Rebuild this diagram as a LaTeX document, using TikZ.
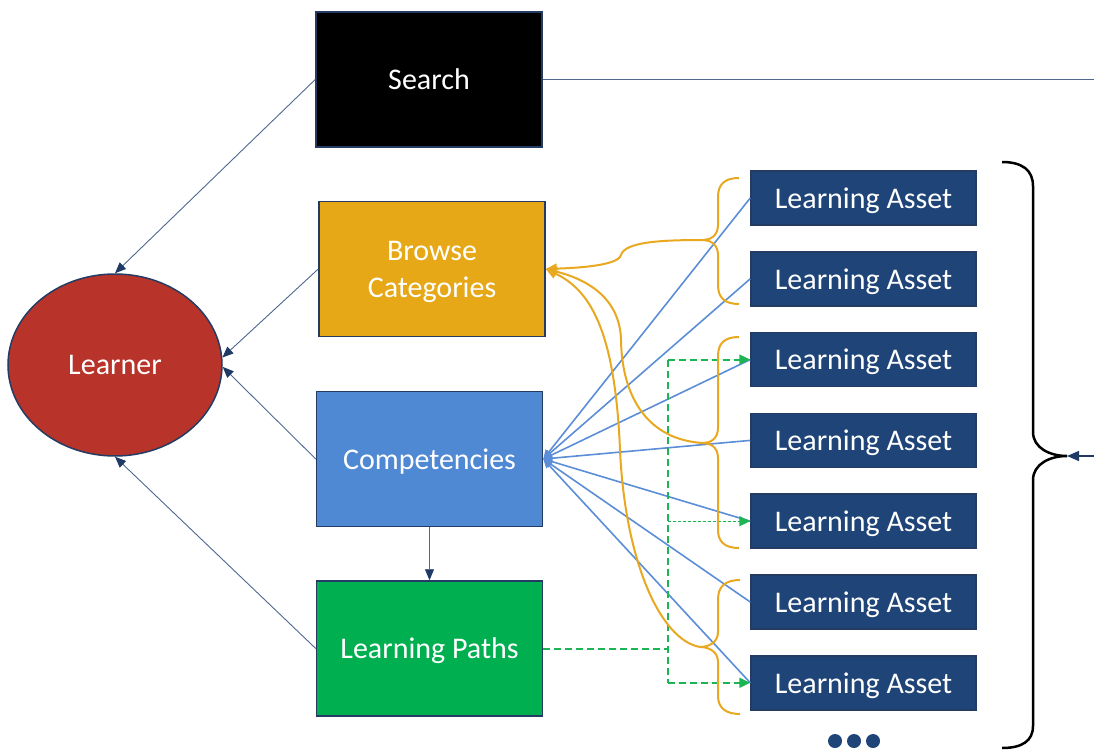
\documentclass[tikz,border=0pt]{standalone}
\usepackage{fontspec}
\setmainfont{Carlito}
\usetikzlibrary{arrows.meta,shapes.geometric}
\definecolor{boxedge}{RGB}{36,60,100}
\definecolor{browseorange}{RGB}{230,168,23}
\definecolor{compblue}{RGB}{80,137,211}
\definecolor{pathgreen}{RGB}{0,176,80}
\definecolor{learnerred}{RGB}{184,51,41}
\definecolor{assetblue}{RGB}{31,68,120}
\definecolor{linkblue}{RGB}{78,104,144}
\definecolor{headblue}{RGB}{31,58,100}
\definecolor{rayblue}{RGB}{91,142,214}
\definecolor{bracegold}{RGB}{232,168,32}
\definecolor{dashgreen}{RGB}{29,180,84}
\tikzset{
  box/.style={draw=boxedge, line width=1.5pt, minimum width=226pt, minimum height=135pt,
    inner sep=0pt, text depth=0pt, text=white, align=center, font=\fontsize{30}{37}\selectfont},
  assetbox/.style={box, fill=assetblue, minimum width=225pt, minimum height=54pt},
  tolearner/.style={draw=linkblue, line width=0.9pt, -{Triangle[length=11pt,width=9pt,color=headblue]}},
  ray/.style={draw=rayblue, line width=1.6pt, -{Triangle[length=9pt,width=8pt]}},
  goldline/.style={draw=bracegold, line width=2pt},
  pathlink/.style={draw=dashgreen, line width=2pt, dash pattern=on 7pt off 4pt},
  pathhead/.style={-{Triangle[length=11pt,width=10pt]}},
}
\begin{document}
\begin{tikzpicture}[x=1pt,y=-1pt]
  \useasboundingbox (0,0) rectangle (1094,749);
  %Shape: Rectangle
  \node[box, fill=black] (search) at (429,79.5) {Search};
  %Shape: Rectangle
  \node[box, fill=browseorange] (browse) at (432,269) {Browse\\Categories};
  %Shape: Rectangle
  \node[box, fill=compblue] (comp) at (429.5,459) {Competencies};
  %Shape: Rectangle
  \node[box, fill=pathgreen] (paths) at (429.5,648.5) {Learning Paths};
  %Shape: Ellipse
  \node[box, ellipse, fill=learnerred, minimum width=214pt, minimum height=182pt] (learner) at (115,365) {Learner};
  %Shape: Rectangles (assets)
  \foreach \i in {1,...,7}
    \node[assetbox] (asset\i) at (863.5,{198+80.8*(\i-1)}) {Learning Asset};
  %Shape: Dots
  \foreach \dx in {835,854,873}
    \fill[assetblue] (\dx,741) circle (7pt);

  %Straight Lines
  \draw[tolearner] (search.west) -- (learner.north);
  \draw[tolearner] (browse.west) -- (learner.4);
  \draw[tolearner] (comp.west) -- (learner.-1);
  \draw[tolearner] (paths.west) -- (learner.south);
  \draw[tolearner] (comp.south) -- (paths.north);
  \coordinate (searchout) at (1094,79.5);
  \draw[draw=linkblue, line width=1.2pt] (search.east) -- (searchout);
  %Straight Lines (assets to competencies)
  \foreach \i in {1,...,7}
    \draw[ray] (asset\i.west) -- (comp.east);

  %Dashed Lines
  \coordinate (gj) at (668,648.5);
  \draw[pathlink] (paths.east) -- (gj);
  \draw[pathlink] (gj |- asset3.west) -- (gj |- asset7.west);
  \draw[pathlink, pathhead, fill=dashgreen] (gj |- asset3.west) -- (asset3.west);
  \draw[pathlink, pathhead, fill=dashgreen, line width=1.4pt, dash pattern=on 3pt off 2pt] (gj |- asset5.west) -- (asset5.west);
  \draw[pathlink, pathhead, fill=dashgreen] (gj |- asset7.west) -- (asset7.west);

  %Shape: Braces
  \coordinate (tipA) at (703,240);
  \coordinate (tipB) at (703,443);
  \coordinate (tipC) at (700,647);
  \draw[goldline] (739,178) .. controls (725,178) and (718,184) .. (718,197) -- (718,225) .. controls (718,236) and (710,240) .. (tipA)
    .. controls (710,240) and (718,244) .. (718,255) -- (718,285) .. controls (718,298) and (725,304) .. (739,304);
  \draw[goldline] (739,337) .. controls (725,337) and (718,343) .. (718,356) -- (718,428) .. controls (718,439) and (710,443) .. (tipB)
    .. controls (710,443) and (718,447) .. (718,458) -- (718,530) .. controls (718,542) and (725,548) .. (739,548);
  \draw[goldline] (740,580) .. controls (726,580) and (718,586) .. (718,599) -- (718,632) .. controls (718,643) and (708,647) .. (tipC)
    .. controls (708,647) and (718,651) .. (718,662) -- (718,696) .. controls (718,708) and (726,714) .. (740,714);
  %Curves
  \draw[goldline, -{Triangle[length=11pt,width=10pt]}] (tipA) .. controls (660,240) and (625,242) .. (621,255) .. controls (618,266) and (575,268) .. (browse.east);
  \draw[goldline, -{Triangle[length=11pt,width=10pt]}] (tipB) .. controls (650,440) and (622,400) .. (621,340) .. controls (620,300) and (590,280) .. (browse.east);
  \draw[goldline, -{Triangle[length=11pt,width=10pt]}] (tipC) .. controls (660,640) and (625,560) .. (620,450) .. controls (615,330) and (590,290) .. (browse.east);

  %Shape: Right Brace
  \coordinate (rbtip) at (1067,456);
  \coordinate (rbin) at (1094,456);
  \draw[line width=2.5pt] (1002,162) .. controls (1022,162) and (1033,170) .. (1033,186) -- (1033,432) .. controls (1033,448) and (1050,456) .. (rbtip)
    .. controls (1050,456) and (1033,464) .. (1033,480) -- (1033,726) .. controls (1033,741) and (1022,748) .. (1002,748);
  \draw[draw=headblue, line width=1.4pt, -{Triangle[length=12pt,width=10pt]}] (rbin) -- (rbtip);
\end{tikzpicture}
\end{document}
